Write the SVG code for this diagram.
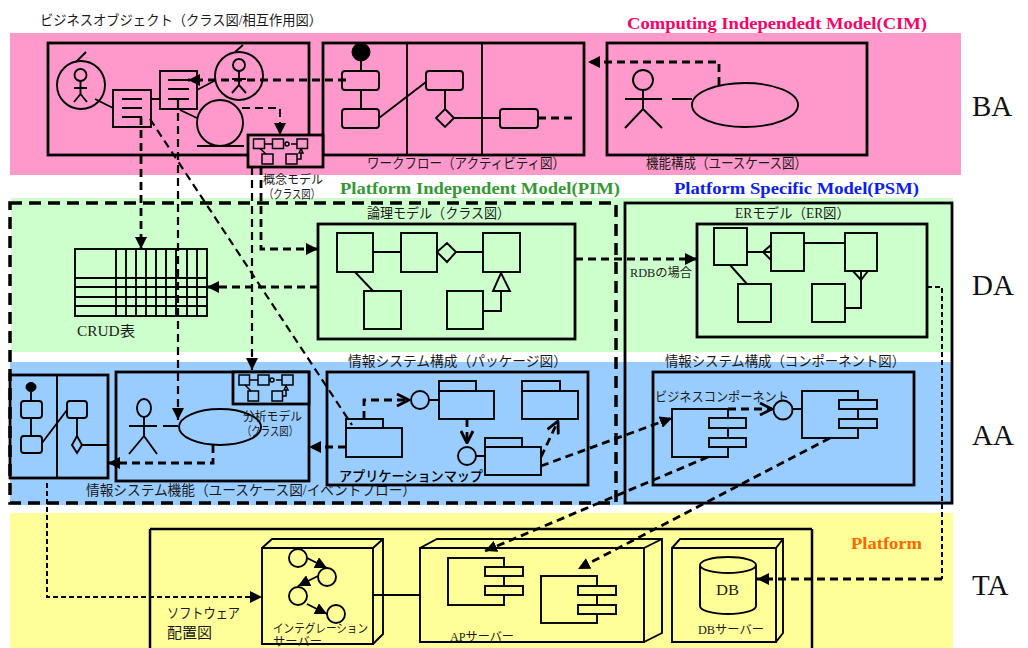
<svg xmlns="http://www.w3.org/2000/svg" width="1028" height="648" viewBox="0 0 1028 648">
<style>
text{font-family:"Liberation Serif","Noto Sans CJK JP",serif;fill:#1a1a1a;font-size:14px}
.s{font-size:12px}
.h{font-weight:bold;font-size:17.500px;font-family:"Liberation Serif",serif}
.big{font-size:29px;font-family:"Liberation Serif",serif;fill:#111}
.b{fill:none;stroke:#000;stroke-width:2.800}
.m{fill:none;stroke:#000;stroke-width:1.900}
.p{fill:#ff99cc}.g{fill:#ccffcc}.bl{fill:#99ccff}.y{fill:#ffff99}
.k{fill:#000;stroke:#000}
.d{fill:none;stroke:#000;stroke-width:2.800;stroke-dasharray:8 5}
.dt{fill:none;stroke:#000;stroke-width:2;stroke-dasharray:5 3}
.a{marker-end:url(#fa)}
.o{marker-end:url(#oa)}
</style>
<defs>
<marker id="fa" viewBox="0 0 12 12" refX="12" refY="6" markerWidth="12" markerHeight="12" markerUnits="userSpaceOnUse" orient="auto"><path d="M0,0L12,6L0,12z" fill="#000"/></marker>
<marker id="oa" viewBox="0 0 14 14" refX="13" refY="7" markerWidth="14" markerHeight="14" markerUnits="userSpaceOnUse" orient="auto"><path d="M1,1L13,7L1,13" fill="none" stroke="#000" stroke-width="2.800"/></marker>
</defs>

<g id="bands">
<rect class="p" x="10" y="33" width="951" height="142"/>
<rect class="g" x="11" y="198" width="942" height="154"/>
<rect class="bl" x="10" y="362" width="943" height="143"/>
<rect class="y" x="10" y="513" width="943" height="135"/>
</g>

<g id="titles">
<text class="h" x="627" y="29" textLength="300" lengthAdjust="spacingAndGlyphs" style="fill:#ff0066">Computing Independedt Model(CIM)</text>
<text class="h" x="340" y="194" textLength="280" lengthAdjust="spacingAndGlyphs" style="fill:#339933">Platform Independent Model(PIM)</text>
<text class="h" x="674" y="194" textLength="245" lengthAdjust="spacingAndGlyphs" style="fill:#0a1ef0">Platform Specific Model(PSM)</text>
<text class="h" x="851" y="549" textLength="71" lengthAdjust="spacingAndGlyphs" style="fill:#ff6600">Platform</text>
<text class="big" x="972" y="116">BA</text>
<text class="big" x="972" y="295">DA</text>
<text class="big" x="972" y="445">AA</text>
<text class="big" x="972" y="595">TA</text>
</g>

<g id="psm-frame"><rect class="b" x="625" y="203" width="327" height="300"/></g>
<g id="pim-frame"><rect x="10" y="203" width="606" height="300" fill="none" stroke="#000" stroke-width="3.500" stroke-dasharray="12 7"/></g>

<g id="business-object">
<rect class="b" x="48" y="43" width="261" height="112"/>
<text x="40" y="25" textLength="282" lengthAdjust="spacingAndGlyphs">ビジネスオブジェクト（クラス図/相互作用図）</text>
<circle class="m" cx="81" cy="85" r="24"/><path class="m" d="M76,62L86,52M74,88H87M80.500,81V94L74,102M80.500,94L87,102"/><circle class="m" cx="80.500" cy="75" r="6"/>
<circle class="m" cx="239" cy="76" r="24"/><path class="m" d="M235,52L243,45M232,79H246M239,71V85L232,93M239,85L246,93"/><circle class="m" cx="239" cy="65" r="6"/>
<rect class="m" x="113" y="90" width="38" height="37"/><path class="m" d="M122,99H142M122,108H142M122,117H142"/>
<rect class="m" x="160" y="71" width="37" height="38"/><path class="m" d="M168,80H189M168,89H189M168,99H189"/>
<circle class="m" cx="220" cy="123" r="23"/><path class="m" d="M197,146H244M180,110L197,118M95,99L113,108M151,99H160M197,90L216,80"/>
</g>

<g id="workflow">
<rect class="b" x="323" y="43" width="261" height="112"/>
<path class="m" d="M407,43V155M482,43V155M361,61V71M361,90V109M379,118L426,82M445,90V109M454,118H500"/>
<circle class="k" cx="361" cy="52" r="9"/>
<rect class="m" x="342" y="71" width="37" height="19" rx="3"/><rect class="m" x="342" y="109" width="37" height="19" rx="3"/>
<rect class="m" x="426" y="71" width="37" height="19" rx="3"/><rect class="m" x="500" y="109" width="38" height="19" rx="3"/>
<path class="m" d="M445,109L454,118L445,127L436,118z"/>
<text x="367" y="168" textLength="198" lengthAdjust="spacingAndGlyphs">ワークフロー（アクティビティ図）</text>
</g>

<g id="usecase">
<rect class="b" x="607" y="43" width="260" height="112"/>
<circle class="m" cx="643" cy="80" r="10"/><path class="m" d="M625,99H662M643,90V109L625,128M643,109L662,128M672,99H692"/>
<ellipse class="m" cx="745" cy="105" rx="53" ry="22"/>
<text x="646" y="168" textLength="161" lengthAdjust="spacingAndGlyphs">機能構成（ユースケース図）</text>
</g>

<g id="concept-model">
<rect class="p" x="248" y="135" width="75" height="32" stroke="#000" stroke-width="2.800"/>
<g stroke="#000" stroke-width="1.500" fill="none">
<rect x="253.500" y="139" width="11" height="9.500"/><rect x="272.500" y="139" width="11" height="9.500"/><rect x="297" y="139" width="10.500" height="9.500"/><rect x="262" y="154" width="11" height="10"/><rect x="286" y="154" width="11" height="10"/>
<path d="M264.500,144H272.500M291,144H297M260,148.500L266,154M297,159H301V153"/><circle cx="287" cy="144" r="2"/><path d="M299,153L301,149L303,153z"/>
</g>
<text class="s" x="263" y="184" textLength="60" lengthAdjust="spacingAndGlyphs">概念モデル</text>
<text class="s" x="264" y="199" textLength="56" lengthAdjust="spacingAndGlyphs">（クラス図）</text>
</g>

<g id="crud">
<rect class="m" x="75" y="249" width="132" height="67"/>
<path class="m" d="M75,278H207M75,287H207M75,297H207M75,306H207M116,249V316M126,249V316M136,249V316M146,249V316M156,249V316M166,249V316M176,249V316M187,249V316M197,249V316"/>
<text x="77" y="336" textLength="58" lengthAdjust="spacingAndGlyphs">CRUD表</text>
</g>

<g id="logical-model">
<rect class="b" x="318" y="224" width="257" height="115"/>
<rect class="m" x="337" y="233" width="36" height="39"/><rect class="m" x="401" y="233" width="36" height="39"/><rect class="m" x="483" y="233" width="37" height="39"/><rect class="m" x="364" y="291" width="37" height="38"/><rect class="m" x="447" y="291" width="36" height="38"/>
<path class="m" d="M373,252H401M456,252H483M355,272L373,291M437,252L447,243L456,252L447,262zM501,273L510,291H493zM501,291V311H483"/>
<text x="367" y="218" textLength="143" lengthAdjust="spacingAndGlyphs">論理モデル（クラス図）</text>
</g>

<g id="er-model">
<rect class="b" x="697" y="224" width="230" height="113"/>
<rect class="m" x="714" y="228" width="33" height="37"/><rect class="m" x="771" y="233" width="33" height="38"/><rect class="m" x="845" y="233" width="32" height="38"/><rect class="m" x="738" y="284" width="33" height="38"/><rect class="m" x="812" y="284" width="33" height="38"/>
<path class="m" d="M747,252H771M771,245L763,252L771,260M804,243H845M730,265L747,284M853,271L861,280L868,271M861,271V308H845"/>
<text x="735" y="218" textLength="115" lengthAdjust="spacingAndGlyphs">ERモデル（ER図）</text>
<text class="s" x="630" y="277" textLength="62" lengthAdjust="spacingAndGlyphs">RDBの場合</text>
</g>

<g id="activity-aa">
<rect class="b" x="10" y="375" width="98" height="103"/>
<path class="m" d="M57,375V478M31,392V401M31,418V436M42,443L67,410M77,418V436M82,445H108"/>
<ellipse class="k" cx="31" cy="387" rx="5" ry="4.500"/>
<rect class="m" x="21" y="401" width="21" height="17" rx="3"/><rect class="m" x="21" y="436" width="21" height="17" rx="3"/><rect class="m" x="67" y="401" width="20" height="17" rx="3"/>
<path class="m" d="M77,436L82,445L77,453L72,445z"/>
</g>

<g id="system-function">
<rect class="b" x="116" y="372" width="193" height="109"/>
<ellipse class="m" cx="144" cy="408" rx="7" ry="9"/>
<path class="m" d="M129,426H157M144,417V436L129,454M144,436L157,454M163,426H178"/>
<ellipse class="m" cx="220" cy="427" rx="41" ry="18"/>
<text x="86" y="495" textLength="330" lengthAdjust="spacingAndGlyphs">情報システム機能（ユースケース図/イベントフロー）</text>
</g>

<g id="analysis-model">
<rect class="bl" x="233" y="372" width="76" height="32" stroke="#000" stroke-width="2.800"/>
<g stroke="#000" stroke-width="1.500" fill="none">
<rect x="239" y="375" width="10.500" height="10"/><rect x="258" y="375" width="11" height="10"/><rect x="282" y="375" width="11" height="10"/><rect x="248" y="391" width="10.500" height="10"/><rect x="272" y="391" width="10.500" height="10"/>
<path d="M249.500,380H258M276,380H282M245,385L251,391M282.500,396H286V390"/><circle cx="272" cy="380" r="2"/><path d="M284,390L286,386L288,390z"/>
</g>
<text class="s" x="243" y="421" textLength="59" lengthAdjust="spacingAndGlyphs">分析モデル</text>
<text class="s" x="242" y="436" textLength="56" lengthAdjust="spacingAndGlyphs">（クラス図）</text>
</g>

<g id="package-diagram">
<rect class="b" x="327" y="372" width="261" height="113"/>
<g class="m">
<rect x="346" y="419" width="37" height="9"/><rect x="346" y="428" width="56" height="29"/>
<rect x="439" y="381" width="37" height="10"/><rect x="439" y="391" width="55" height="28"/>
<rect x="522" y="381" width="38" height="10"/><rect x="522" y="391" width="56" height="28"/>
<rect x="485" y="438" width="37" height="9"/><rect x="485" y="447" width="56" height="28"/>
<circle cx="420" cy="400" r="9"/><circle cx="467" cy="456" r="9"/>
<path d="M429,400H439M476,456H485"/>
</g>
<text x="348" y="366" textLength="219" lengthAdjust="spacingAndGlyphs">情報システム構成（パッケージ図）</text>
<text x="339" y="481" textLength="144" lengthAdjust="spacingAndGlyphs" style="font-weight:500;fill:#000">アプリケーションマップ</text>
</g>

<g id="component-diagram">
<rect class="b" x="653" y="372" width="261" height="113"/>
<g class="m">
<rect x="672" y="409" width="56" height="48"/><rect class="bl" x="709" y="418" width="37" height="10"/><rect class="bl" x="709" y="438" width="37" height="9"/>
<rect x="802" y="391" width="56" height="47"/><rect class="bl" x="839" y="400" width="38" height="9"/><rect class="bl" x="839" y="419" width="38" height="9"/>
<circle cx="783" cy="410" r="9.500"/><path d="M793,409H802"/>
</g>
<text x="665" y="366" textLength="240" lengthAdjust="spacingAndGlyphs">情報システム構成（コンポーネント図）</text>
<text x="655" y="401" textLength="134" lengthAdjust="spacingAndGlyphs" style="font-size:13px">ビジネスコンポーネント</text>
</g>

<g id="deployment-frame">
<path class="m" style="stroke-width:2.500" d="M150,529H812M150,529V648M812,529V648"/>
<text x="167" y="618" textLength="73" lengthAdjust="spacingAndGlyphs">ソフトウェア</text>
<text x="167" y="638" textLength="45" lengthAdjust="spacingAndGlyphs" style="font-size:15px">配置図</text>
</g>

<g id="integration-server">
<path class="m" d="M262,548H373V644H262zM262,548L272,539H383V634L373,644M373,548L383,539M373,595H420"/>
<circle class="m" cx="298" cy="558" r="9"/><circle class="m" cx="327" cy="577" r="9"/><circle class="m" cx="298" cy="596" r="9"/><circle class="m" cx="336" cy="614" r="9"/>
<path class="m a" d="M307,558L327,568"/><path class="m a" d="M318,576L298,586"/><path class="m a" d="M307,604L327,614"/>
<text class="s" x="273" y="633" textLength="95" lengthAdjust="spacingAndGlyphs">インテグレーション</text>
<text class="s" x="273" y="646" textLength="49" lengthAdjust="spacingAndGlyphs">サーバー</text>
</g>

<g id="ap-server">
<path class="m" d="M420,548H644V642H420zM420,548L437,539H662V633L644,642M644,548L662,539"/>
<rect class="m" x="448" y="558" width="56" height="47"/><rect class="m y" x="485" y="567" width="38" height="9"/><rect class="m y" x="485" y="586" width="38" height="9"/>
<rect class="m" x="541" y="576" width="56" height="47"/><rect class="m y" x="578" y="586" width="38" height="9"/><rect class="m y" x="578" y="605" width="38" height="9"/>
<text class="s" x="450" y="641" textLength="64" lengthAdjust="spacingAndGlyphs">APサーバー</text>
</g>

<g id="db-server">
<path class="m" d="M672,548H776V642H672zM672,548L680,539H783V633L776,642M776,548L783,539"/>
<path class="m" d="M700,565V606A28,8 0 0 0 756,606V565"/><ellipse class="m" cx="728" cy="565" rx="28" ry="8"/>
<text x="716" y="595" textLength="23" lengthAdjust="spacingAndGlyphs" style="font-size:15px">DB</text>
<text class="s" x="698" y="634" textLength="66" lengthAdjust="spacingAndGlyphs">DBサーバー</text>
</g>

<g id="connectors">
<path class="d a" d="M346,80H188"/>
<path class="d" d="M538,118H575"/>
<path class="d a" d="M719,85V62H588"/>
<path class="d a" style="stroke-width:2" d="M242,108H280V135"/>
<path class="d a" d="M141,117V249"/>
<path class="d a" style="stroke-width:2.200" d="M178,100V420"/>
<path class="d" style="stroke-width:2.200" d="M150,119L352,425"/>
<path class="d a" style="stroke-width:2.200" d="M252,167V370"/>
<path class="d a" d="M261,167V249H318"/>
<path class="d a" d="M318,287H207"/>
<path class="d a" d="M575,259H697"/>
<path class="dt" d="M927,287H942V579"/>
<path class="d a" d="M942,579H757"/>
<path class="d a" d="M213,445V463H108"/>
<path class="dt a" d="M47,483V597H262"/>
<path class="d o" d="M364,419V400H409"/>
<path class="d o" d="M467,419V443"/>
<path class="d o" d="M541,457L558,421"/>
<path class="d a" d="M346,447H309"/>
<path class="d a" d="M541,466L672,418"/>
<path class="d o" d="M728,409H772"/>
<path class="d a" d="M708,457L485,551"/>
<path class="d a" d="M830,438L578,569"/>
</g>
</svg>
